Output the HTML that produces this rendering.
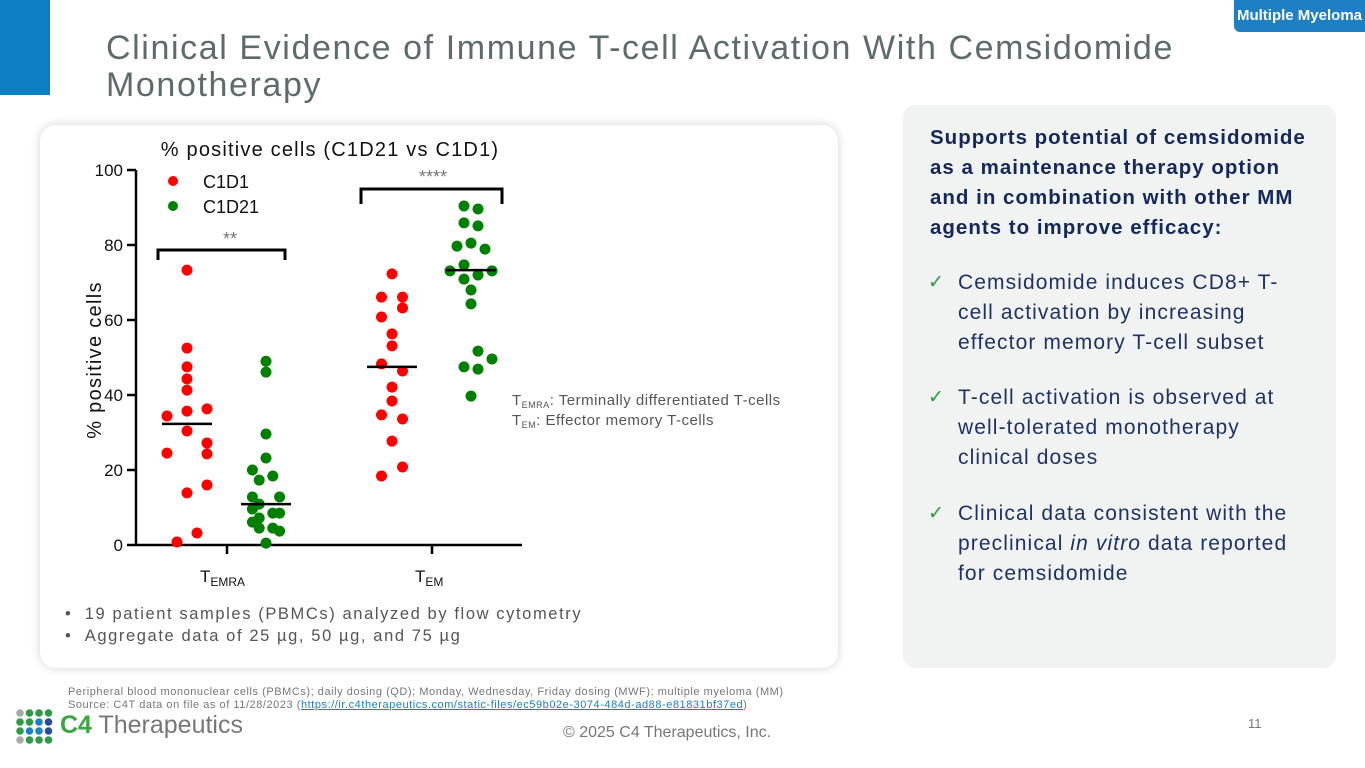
<!DOCTYPE html>
<html><head><meta charset="utf-8"><style>
body{margin:0;width:1365px;height:768px;position:relative;overflow:hidden;background:#fff;font-family:"Century Gothic","Liberation Sans",sans-serif;}
.abs{position:absolute}
.bl{position:absolute;left:928px;width:420px;font-size:21px;line-height:30px;color:#1f3263;letter-spacing:1.1px;white-space:nowrap}
.bl span{position:absolute;left:0;color:#2a9a3a;font-size:19px}
.bl div{margin-left:30px}
</style></head><body>
<div class="abs" style="left:0;top:0;width:50px;height:95px;background:#0b7fc0"></div>
<div class="abs" style="left:106px;top:30px;width:1200px;font-size:34px;line-height:37px;color:#5f6b6b;letter-spacing:1.6px;white-space:nowrap">Clinical Evidence of Immune T-cell Activation With Cemsidomide<br>Monotherapy</div>
<div class="abs" style="left:1234px;top:0;width:131px;height:32px;background:#1f7fc4;border-radius:0 0 0 6px;color:#fff;font-weight:bold;font-size:15px;line-height:32px;text-align:center">Multiple Myeloma</div>

<div class="abs" style="left:40px;top:125px;width:798px;height:543px;background:#fff;border-radius:16px;box-shadow:0 0 10px rgba(0,0,0,0.18)"></div>
<div class="abs" style="left:903px;top:105px;width:433px;height:563px;background:#f1f2f2;border-radius:12px"></div>

<svg class="abs" style="left:0;top:0" width="1365" height="768">
<text x="330" y="156" text-anchor="middle" font-family="Liberation Sans,sans-serif" font-size="20" letter-spacing="1.2" fill="#111">% positive cells (C1D21 vs C1D1)</text>
<g id="axes"></g><g id="marks"></g>
<text transform="translate(101,360) rotate(-90)" text-anchor="middle" font-family="Liberation Sans,sans-serif" font-size="20" letter-spacing="1.3" fill="#111">% positive cells</text>
<circle cx="173" cy="181" r="5" fill="#f00"/>
<text x="203" y="188" font-family="Liberation Sans,sans-serif" font-size="18" fill="#111">C1D1</text>
<circle cx="173" cy="206" r="5" fill="#008000"/>
<text x="203" y="213" font-family="Liberation Sans,sans-serif" font-size="18" fill="#111">C1D21</text>
<path d="M158,260 V250 H285 V260" fill="none" stroke="#000" stroke-width="3"/>
<text x="230" y="245" text-anchor="middle" font-family="Liberation Sans,sans-serif" font-size="18" fill="#777">**</text>
<path d="M361,204 V189 H502 V204" fill="none" stroke="#000" stroke-width="3"/>
<text x="433" y="183" text-anchor="middle" font-family="Liberation Sans,sans-serif" font-size="18" fill="#777">****</text>
<text x="200" y="582" font-family="Liberation Sans,sans-serif" font-size="17" fill="#111">T<tspan font-size="12" dy="4">EMRA</tspan></text>
<text x="415" y="582" font-family="Liberation Sans,sans-serif" font-size="17" fill="#111">T<tspan font-size="12" dy="4">EM</tspan></text>
<g font-size="15" fill="#555" letter-spacing="0.5">
<text x="512" y="405">T<tspan font-size="9" dy="3">EMRA</tspan><tspan dy="-3">: Terminally differentiated T-cells</tspan></text>
<text x="512" y="425">T<tspan font-size="9" dy="3">EM</tspan><tspan dy="-3">: Effector memory T-cells</tspan></text>
</g>
<g font-size="16.5" fill="#555" letter-spacing="1.6">
<text x="65" y="619">•&#160;&#160;19 patient samples (PBMCs) analyzed by flow cytometry</text>
<text x="65" y="641">•&#160;&#160;Aggregate data of 25 µg, 50 µg, and 75 µg</text>
</g>
</svg>

<div class="abs" style="left:930px;top:123px;width:420px;font-size:20.5px;line-height:30px;font-weight:bold;color:#14285a;letter-spacing:1.0px;white-space:nowrap">Supports potential of cemsidomide<br>as a maintenance therapy option<br>and in combination with other MM<br>agents to improve efficacy:</div>
<div class="bl" style="top:268px"><span>✓</span><div>Cemsidomide induces CD8+ T-<br>cell activation by increasing<br>effector memory T-cell subset</div></div>
<div class="bl" style="top:383px"><span>✓</span><div>T-cell activation is observed at<br>well-tolerated monotherapy<br>clinical doses</div></div>
<div class="bl" style="top:499px"><span>✓</span><div>Clinical data consistent with the<br>preclinical <i>in vitro</i> data reported<br>for cemsidomide</div></div>

<div class="abs" style="left:68px;top:686px;font-size:11px;line-height:13px;color:#777;letter-spacing:0.55px;white-space:nowrap">Peripheral blood mononuclear cells (PBMCs); daily dosing (QD); Monday, Wednesday, Friday dosing (MWF); multiple myeloma (MM)<br>Source: C4T data on file as of 11/28/2023 (<span style="color:#1a7fc0;text-decoration:underline">https://ir.c4therapeutics.com/static-files/ec59b02e-3074-484d-ad88-e81831bf37ed</span>)</div>
<svg class="abs" style="left:15px;top:708px" width="40" height="38">
<g id="logo"></g></svg>
<div class="abs" style="left:60px;top:708px;font-size:25px;color:#777;line-height:34px"><b style="color:#3aa642">C4</b> Therapeutics</div>
<div class="abs" style="left:563px;top:724px;font-size:16px;color:#777">© 2025 C4 Therapeutics, Inc.</div>
<div class="abs" style="left:1248px;top:716px;font-size:13px;color:#777">11</div>

<script>
const groups = ['TEMRA','TEM'];
const series = ['C1D1','C1D21'];
const yTicks = [0,20,40,60,80,100];
const temraC1D1 = [73.3,52.5,47.5,44.3,41.3,35.7,36.3,34.4,30.4,27.2,24.5,24.3,16,13.9,3.2,0.8];
const temraC1D1Lane = [0,0,0,0,0,0,2,-2,0,2,-2,2,2,0,1,-1];
const temraC1D21 = [49,46.1,29.6,23.2,20,17.3,18.4,12.8,12.8,10.9,9.6,8.5,8.5,7.2,6.1,4.5,4.5,3.7,0.5];
const temraC1D21Lane = [0,0,0,0,-2,-1,1,-2,2,-1,-2,1,2,-1,-2,-1,1,2,0];
const temC1D1 = [72.3,66.1,66.1,63.2,60.8,56.3,53.1,48.3,46.4,42.1,38.4,34.7,33.6,27.7,20.8,18.4];
const temC1D1Lane = [0,-1,1,1,-1,0,0,-1,1,0,0,-1,1,0,1,-1];
const temC1D21 = [90.4,89.6,85.9,85.1,79.7,80.5,78.9,74.7,73.1,73.1,70.9,72,68,64.3,51.7,49.6,47.5,46.9,39.7];
const temC1D21Lane = [-1,1,-1,1,-2,0,2,-1,-3,3,-1,1,0,0,1,3,-1,1,0];
const medians = [[32.3,10.9],[47.5,73.3]];

const NS='http://www.w3.org/2000/svg';
const y0=545, y1=170;
const ys = v => y0 + (y1-y0)*v/100;
const groupX = [227,432];
const seriesOff = [-40,39];
const laneW = 10;
function mk(tag, attrs, parent){const e=document.createElementNS(NS,tag);for(const k in attrs)e.setAttribute(k,attrs[k]);parent.appendChild(e);return e;}
const axes=document.getElementById('axes');
const marks=document.getElementById('marks');
let a=mk('line',{x1:136,y1:ys(0),x2:136,y2:ys(100),stroke:'#000','stroke-width':2.5},axes);


a=mk('line',{x1:136,y1:ys(0),x2:522,y2:ys(0),stroke:'#000','stroke-width':2.5},axes);


yTicks.forEach(t=>{
  const l=mk('line',{x1:127,x2:136,y1:ys(t),y2:ys(t),stroke:'#000','stroke-width':2.5},axes);
  
  
  const tx=mk('text',{x:123,y:ys(t)+6,'text-anchor':'end','font-family':'Liberation Sans,sans-serif','font-size':17,fill:'#111'},axes);
  tx.textContent=t;
  
  
});
groupX.forEach(gx=>{
  const l=mk('line',{x1:gx,x2:gx,y1:ys(0),y2:ys(0)+9,stroke:'#000','stroke-width':2.5},axes);
  
  
});
const sets=[[temraC1D1,temraC1D1Lane,0,0],[temraC1D21,temraC1D21Lane,0,1],[temC1D1,temC1D1Lane,1,0],[temC1D21,temC1D21Lane,1,1]];
const colors=['#f00','#008000'];
sets.forEach(([vals,lanes,g,s])=>{
  const cx=groupX[g]+seriesOff[s];
  vals.forEach((v,i)=>{
    const c=mk('circle',{cx:cx+lanes[i]*laneW*(g===0&&s===0?1:(g===0?0.68:(s===0?1.05:0.7))),cy:ys(v),r:5.5,fill:colors[s]},marks);
    
    
  });
  const m=mk('line',{x1:cx-25,x2:cx+25,y1:ys(medians[g][s]),y2:ys(medians[g][s]),stroke:'#000','stroke-width':2.5},marks);
  
  
});
const logo=document.getElementById('logo');
const lc=[['#aaa','#2e9a44','#2e9a44','#2e9a44'],['#2e9a44','#2e9a44','#1e7fc4','#2b4a9a'],['#2e9a44','#1e7fc4','#1e7fc4','#2b4a9a'],['#aaa','#2e9a44','#2e9a44','#2e9a44']];
lc.forEach((row,r)=>row.forEach((col,c)=>{
  const d=mk('circle',{cx:5+c*9.5,cy:5+r*9,r:3.8,fill:col},logo);
  
  
}));
</script>
</body></html>
